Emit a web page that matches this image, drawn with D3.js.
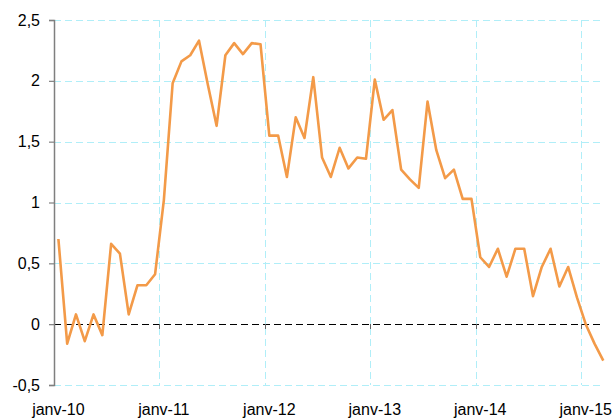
<!DOCTYPE html>
<html>
    <head>
        <script src="https://d3js.org/d3.v7.min.js"></script>
        <style>
            body { margin: 0; background: #fff; }
            text { font-family: Arial, 'Liberation Sans', sans-serif; font-size: 16px; fill: #000; }
            .grid { shape-rendering: crispEdges; }
        </style>
    </head>
    <body>
        <div id="chart"></div>
        <script>
            // monthly values, janv-10 .. mars-15
            const values = [
                0.70, -0.16, 0.08, -0.14, 0.08, -0.09, 0.66, 0.58, 0.08, 0.32, 0.32, 0.41,
                1.02, 1.98, 2.16, 2.21, 2.33, 1.97, 1.63, 2.21, 2.31, 2.22, 2.31, 2.30,
                1.55, 1.55, 1.21, 1.70, 1.53, 2.03, 1.37, 1.21, 1.45, 1.28, 1.37, 1.36,
                2.01, 1.68, 1.76, 1.27, 1.19, 1.12, 1.83, 1.43, 1.20, 1.27, 1.03, 1.03,
                0.55, 0.47, 0.62, 0.39, 0.62, 0.62, 0.23, 0.47, 0.62, 0.31, 0.47, 0.22,
                0.00, -0.16, -0.30
            ];
            const months = d3.timeMonth.range(new Date(2010, 0, 1), new Date(2015, 3, 1));
            const yearLabels = ['janv-10', 'janv-11', 'janv-12', 'janv-13', 'janv-14', 'janv-15'];
            const yTicks = [-0.5, 0, 0.5, 1, 1.5, 2, 2.5];

            const svgWidth = 615, svgHeight = 419;
            const plotLeft = 54, plotRight = 607.7, plotTop = 20, plotBottom = 385;
            const gridEnd = 600;

            const svg = d3.select('#chart').append('svg')
                .attr('width', svgWidth)
                .attr('height', svgHeight);

            const x = d3.scaleBand().domain(d3.range(values.length)).range([plotLeft, plotRight]).padding(0);
            const y = d3.scaleLinear().domain([-0.5, 2.5]).range([plotBottom, plotTop]);

            const gridColor = '#b0eef8';

            // horizontal grid
            svg.selectAll('.hgrid')
                .data(yTicks.filter(d => d !== 0))
                .enter().append('line')
                .attr('class', 'grid')
                .attr('x1', plotLeft).attr('x2', gridEnd)
                .attr('y1', d => Math.round(y(d)) + 0.5).attr('y2', d => Math.round(y(d)) + 0.5)
                .attr('stroke', gridColor).attr('stroke-width', 1)
                .attr('stroke-dasharray', '7,4');

            // vertical grid at year boundaries
            const yearIdx = months.map((m, i) => m.getMonth() === 0 ? i : -1).filter(i => i >= 0);
            svg.selectAll('.vgrid')
                .data(yearIdx.filter(i => i > 0))
                .enter().append('line')
                .attr('class', 'grid')
                .attr('x1', d => Math.round(x(d)) + 0.5).attr('x2', d => Math.round(x(d)) + 0.5)
                .attr('y1', plotTop).attr('y2', plotBottom)
                .attr('stroke', gridColor).attr('stroke-width', 1)
                .attr('stroke-dasharray', '7,4');

            // x axis at zero (dashed black) with ticks
            svg.append('line')
                .attr('class', 'grid')
                .attr('x1', plotLeft).attr('x2', gridEnd)
                .attr('y1', Math.round(y(0)) + 0.5).attr('y2', Math.round(y(0)) + 0.5)
                .attr('stroke', '#000').attr('stroke-width', 1)
                .attr('stroke-dasharray', '7,4');
            svg.selectAll('.xtick')
                .data(yearIdx.filter(i => i > 0))
                .enter().append('line')
                .attr('class', 'grid')
                .attr('x1', d => Math.round(x(d)) + 0.5).attr('x2', d => Math.round(x(d)) + 0.5)
                .attr('y1', y(0)).attr('y2', y(0) + 5)
                .attr('stroke', '#666').attr('stroke-width', 1);

            // year labels, centred on january
            svg.selectAll('.xlabel')
                .data(yearIdx)
                .enter().append('text')
                .attr('x', d => x(d) + x.bandwidth() / 2)
                .attr('y', 415)
                .attr('text-anchor', 'middle')
                .text((d, i) => yearLabels[i]);

            // y axis
            const yAxis = svg.append('g')
                .attr('transform', 'translate(' + plotLeft + ',0)')
                .call(d3.axisLeft(y).tickValues(yTicks).tickSize(5).tickPadding(9)
                    .tickFormat(d => String(d).replace('.', ',')));
            yAxis.select('.domain').attr('stroke', '#7f7f7f').attr('stroke-width', 1.5);
            yAxis.selectAll('.tick line').attr('stroke', '#7f7f7f').attr('stroke-width', 1.2);
            yAxis.selectAll('.tick text')
                .attr('font-size', 16).attr('font-family', 'Arial, Liberation Sans, sans-serif')
                .attr('fill', '#000');

            // series line
            const line = d3.line()
                .x((d, i) => x(i) + x.bandwidth() / 2)
                .y(d => y(d));
            svg.append('path')
                .datum(values)
                .attr('d', line)
                .attr('fill', 'none')
                .attr('stroke', '#f39a48')
                .attr('stroke-width', 2.6)
                .attr('stroke-linejoin', 'round');
        </script>
    </body>
</html>
